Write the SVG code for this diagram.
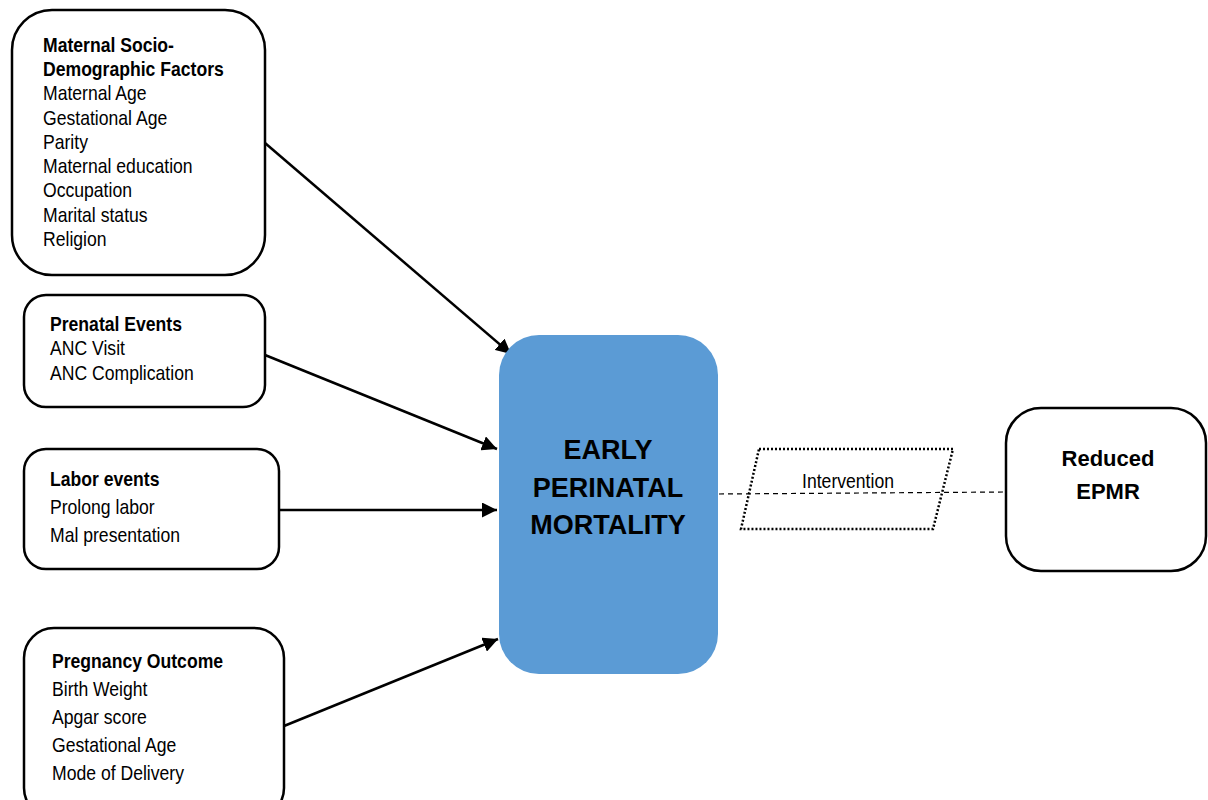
<svg xmlns="http://www.w3.org/2000/svg" width="1208" height="800" viewBox="0 0 1208 800">
<defs>
<style>
.box{fill:#fff;stroke:#000;stroke-width:2.5}
.t{font-family:"Liberation Sans",Arial,sans-serif;font-size:20px;fill:#000}
.b{font-weight:bold}
.c{font-family:"Liberation Sans",Arial,sans-serif;font-weight:bold;fill:#000;text-anchor:middle}
.arr{stroke:#000;stroke-width:2.5;fill:none;marker-end:url(#ah)}
</style>
<marker id="ah" viewBox="0 0 10 10" refX="10" refY="5" markerWidth="6" markerHeight="6" orient="auto" markerUnits="strokeWidth">
<path d="M0,0 L10,5 L0,10 z" fill="#000"/>
</marker>
</defs>
<rect width="1208" height="800" fill="#fff"/>
<g id="connectors">
<line class="arr" x1="265" y1="143" x2="511" y2="354"/>
<line class="arr" x1="265" y1="355" x2="497" y2="449"/>
<line class="arr" x1="279" y1="510" x2="497" y2="510"/>
<line class="arr" x1="284" y1="726" x2="498" y2="639"/>
<line x1="719" y1="494" x2="1006" y2="492" stroke="#000" stroke-width="1.2" stroke-dasharray="5,4"/>
</g>
<g id="maternal">
<rect class="box" x="12" y="10" width="253" height="265" rx="40"/>
<text class="t" transform="translate(43 0) scale(0.88 1)"><tspan class="b" x="0" y="52">Maternal Socio-</tspan><tspan class="b" x="0" y="76">Demographic Factors</tspan><tspan x="0" y="100">Maternal Age</tspan><tspan x="0" y="125">Gestational Age</tspan><tspan x="0" y="149">Parity</tspan><tspan x="0" y="173">Maternal education</tspan><tspan x="0" y="197">Occupation</tspan><tspan x="0" y="222">Marital status</tspan><tspan x="0" y="246">Religion</tspan></text>
</g>
<g id="prenatal">
<rect class="box" x="24" y="295" width="241" height="112" rx="22"/>
<text class="t" transform="translate(50 0) scale(0.88 1)"><tspan class="b" x="0" y="331">Prenatal Events</tspan><tspan x="0" y="355">ANC Visit</tspan><tspan x="0" y="380">ANC Complication</tspan></text>
</g>
<g id="labor">
<rect class="box" x="24" y="449" width="255" height="120" rx="22"/>
<text class="t" transform="translate(50 0) scale(0.88 1)"><tspan class="b" x="0" y="486">Labor events</tspan><tspan x="0" y="514">Prolong labor</tspan><tspan x="0" y="542">Mal presentation</tspan></text>
</g>
<g id="pregnancy">
<rect class="box" x="24" y="628" width="260" height="190" rx="30"/>
<text class="t" transform="translate(52 0) scale(0.88 1)"><tspan class="b" x="0" y="668">Pregnancy Outcome</tspan><tspan x="0" y="696">Birth Weight</tspan><tspan x="0" y="724">Apgar score</tspan><tspan x="0" y="752">Gestational Age</tspan><tspan x="0" y="780">Mode of Delivery</tspan></text>
</g>
<g id="epm">
<rect x="499" y="335" width="219" height="339" rx="40" fill="#5B9BD5"/>
<text class="c" font-size="27"><tspan x="608" y="459">EARLY</tspan><tspan x="608" y="497">PERINATAL</tspan><tspan x="608" y="534">MORTALITY</tspan></text>
</g>
<g id="intervention">
<polygon points="759,449 953,449 933,529 741,529" fill="none" stroke="#000" stroke-width="2.5" stroke-dasharray="2,2"/>
<text class="t" transform="translate(848 0) scale(0.88 1)" x="0" y="488" font-size="18" text-anchor="middle">Intervention</text>
</g>
<g id="reduced">
<rect class="box" x="1006" y="408" width="200" height="163" rx="35"/>
<text class="c" font-size="22"><tspan x="1108" y="466">Reduced</tspan><tspan x="1108" y="499">EPMR</tspan></text>
</g>
</svg>
